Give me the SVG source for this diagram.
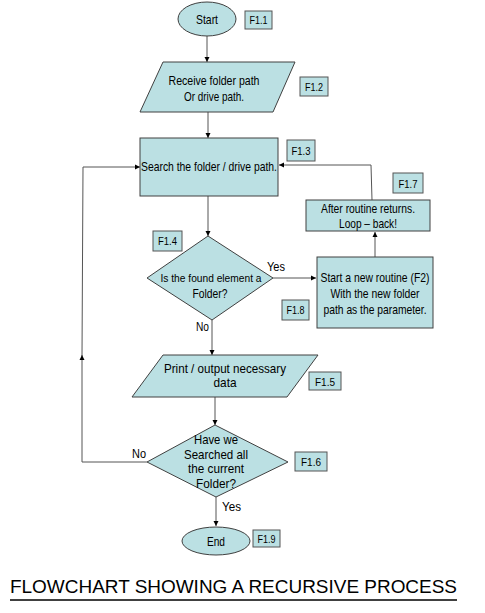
<svg xmlns="http://www.w3.org/2000/svg" width="485" height="613" viewBox="0 0 485 613">
<defs>
<style>
.shape{fill:#bbe0e3;stroke:#404040;stroke-width:1}
.tag{fill:#bbe0e3;stroke:#555;stroke-width:1}
text{font-family:"Liberation Sans",Arial,sans-serif;font-size:13px;fill:#000}
.c{text-anchor:middle}
.t{font-size:11.5px}
.conn{fill:none;stroke:#555;stroke-width:1}
</style>
<marker id="ah" markerWidth="6" markerHeight="6" refX="5" refY="3" orient="auto" markerUnits="userSpaceOnUse">
<path d="M0,0.5 L5,3 L0,5.5 Z" fill="#000"/>
</marker>
</defs>
<rect width="485" height="613" fill="#fff"/>

<g id="connectors">
<line class="conn" x1="207" y1="35" x2="207" y2="62" marker-end="url(#ah)"/>
<line class="conn" x1="208" y1="112" x2="208" y2="138" marker-end="url(#ah)"/>
<line class="conn" x1="208" y1="196" x2="208" y2="236" marker-end="url(#ah)"/>
<line class="conn" x1="273" y1="278" x2="316" y2="278" marker-end="url(#ah)"/>
<line class="conn" x1="375" y1="257" x2="375" y2="232" marker-end="url(#ah)"/>
<polyline class="conn" points="372,200 371,165 279,165" marker-end="url(#ah)"/>
<line class="conn" x1="212" y1="320" x2="212" y2="355" marker-end="url(#ah)"/>
<line class="conn" x1="215" y1="397" x2="215" y2="425" marker-end="url(#ah)"/>
<line class="conn" x1="216" y1="497" x2="216" y2="526" marker-end="url(#ah)"/>
<polyline class="conn" points="147,462 82,462 82,355" marker-end="url(#ah)"/>
<polyline class="conn" points="82,356 83,167 140,167" marker-end="url(#ah)"/>
<text x="267" y="271" textLength="18" lengthAdjust="spacingAndGlyphs">Yes</text>
<text x="196" y="331" textLength="13" lengthAdjust="spacingAndGlyphs">No</text>
<text x="132" y="458" textLength="14" lengthAdjust="spacingAndGlyphs">No</text>
<text x="222" y="511" textLength="19" lengthAdjust="spacingAndGlyphs">Yes</text>
</g>

<g id="start">
<ellipse class="shape" cx="207" cy="19" rx="29" ry="17"/>
<text class="c" x="207" y="24" textLength="22" lengthAdjust="spacingAndGlyphs">Start</text>
</g>
<g id="tag-f11"><rect class="tag" x="245" y="11" width="27" height="18"/><text class="t c" x="258.5" y="24" textLength="18" lengthAdjust="spacingAndGlyphs">F1.1</text></g>

<g id="receive">
<polygon class="shape" points="163,62 295,62 273,112 140,112"/>
<text class="c" x="214" y="85" textLength="91" lengthAdjust="spacingAndGlyphs">Receive folder path</text>
<text class="c" x="214" y="101" textLength="60" lengthAdjust="spacingAndGlyphs">Or drive path.</text>
</g>
<g id="tag-f12"><rect class="tag" x="300" y="77" width="28" height="19"/><text class="t c" x="314" y="91" textLength="18" lengthAdjust="spacingAndGlyphs">F1.2</text></g>

<g id="search">
<rect class="shape" x="140" y="138" width="138" height="58"/>
<text x="141" y="171" textLength="136" lengthAdjust="spacingAndGlyphs">Search the folder / drive path.</text>
</g>
<g id="tag-f13"><rect class="tag" x="287" y="140" width="28" height="21"/><text class="t c" x="301" y="155" textLength="19" lengthAdjust="spacingAndGlyphs">F1.3</text></g>

<g id="after">
<rect class="shape" x="306" y="200" width="124" height="31"/>
<text class="c" x="368" y="213" textLength="94" lengthAdjust="spacingAndGlyphs">After routine returns.</text>
<text class="c" x="368" y="228" textLength="58" lengthAdjust="spacingAndGlyphs">Loop – back!</text>
</g>
<g id="tag-f17"><rect class="tag" x="393" y="173" width="30" height="20"/><text class="t c" x="408" y="188" textLength="19" lengthAdjust="spacingAndGlyphs">F1.7</text></g>

<g id="isfolder">
<polygon class="shape" points="208,236 273,278 212,320 147,278"/>
<text class="c" x="211" y="282" style="font-size:11px" textLength="101" lengthAdjust="spacingAndGlyphs">Is the found element a</text>
<text class="c" x="210" y="298" textLength="35" lengthAdjust="spacingAndGlyphs">Folder?</text>
</g>
<g id="tag-f14"><rect class="tag" x="153" y="231" width="29" height="20"/><text class="t c" x="167.5" y="245" textLength="19" lengthAdjust="spacingAndGlyphs">F1.4</text></g>

<g id="newroutine">
<rect class="shape" x="317" y="257" width="116" height="71"/>
<text class="c" x="375" y="282" textLength="109" lengthAdjust="spacingAndGlyphs">Start a new routine (F2)</text>
<text class="c" x="375" y="298" textLength="89" lengthAdjust="spacingAndGlyphs">With the new folder</text>
<text class="c" x="375" y="314" textLength="103" lengthAdjust="spacingAndGlyphs">path as the parameter.</text>
</g>
<g id="tag-f18"><rect class="tag" x="282" y="300" width="27" height="20"/><text class="t c" x="295.5" y="314" textLength="18" lengthAdjust="spacingAndGlyphs">F1.8</text></g>

<g id="print">
<polygon class="shape" points="163,355 318,355 287,397 132,397"/>
<text class="c" x="225" y="373" textLength="122" lengthAdjust="spacingAndGlyphs">Print / output necessary</text>
<text class="c" x="225" y="387" textLength="23" lengthAdjust="spacingAndGlyphs">data</text>
</g>
<g id="tag-f15"><rect class="tag" x="309" y="372" width="32" height="18"/><text class="t c" x="325" y="386" textLength="20" lengthAdjust="spacingAndGlyphs">F1.5</text></g>

<g id="searchedall">
<polygon class="shape" points="215,425 288,462 216,497 147,462"/>
<text class="c" x="216" y="444" textLength="44" lengthAdjust="spacingAndGlyphs">Have we</text>
<text class="c" x="216" y="459" textLength="64" lengthAdjust="spacingAndGlyphs">Searched all</text>
<text class="c" x="216" y="473" textLength="56" lengthAdjust="spacingAndGlyphs">the current</text>
<text class="c" x="216" y="488" textLength="40" lengthAdjust="spacingAndGlyphs">Folder?</text>
</g>
<g id="tag-f16"><rect class="tag" x="295" y="452" width="32" height="19"/><text class="t c" x="311" y="466" textLength="20" lengthAdjust="spacingAndGlyphs">F1.6</text></g>

<g id="end">
<ellipse class="shape" cx="216" cy="541" rx="34" ry="14"/>
<text class="c" x="216" y="546" textLength="18" lengthAdjust="spacingAndGlyphs">End</text>
</g>
<g id="tag-f19"><rect class="tag" x="253" y="530" width="27" height="17"/><text class="t c" x="266.5" y="543" textLength="18" lengthAdjust="spacingAndGlyphs">F1.9</text></g>

<g id="title">
<text x="10" y="593" style="font-size:19px" textLength="447" lengthAdjust="spacingAndGlyphs">FLOWCHART SHOWING A RECURSIVE PROCESS</text>
<line x1="10" y1="600" x2="457" y2="600" stroke="#000" stroke-width="1.3"/>
</g>
</svg>
